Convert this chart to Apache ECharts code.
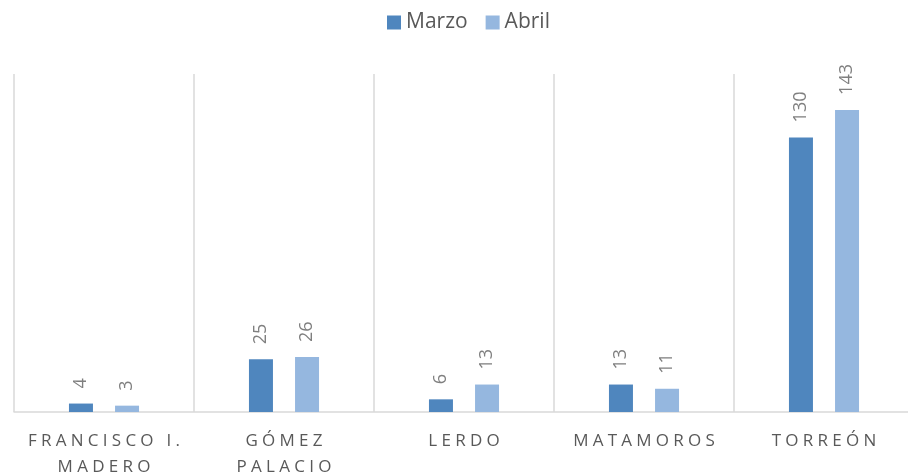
<!DOCTYPE html>
<html>
<head>
<meta charset="utf-8">
<script src="https://cdn.jsdelivr.net/npm/echarts@6/dist/echarts.min.js"></script>
<style>
  html, body { margin: 0; padding: 0; background: #fff; overflow: hidden; }
  #chart { width: 908px; height: 476px; }
</style>
</head>
<body>
<div id="chart"></div>
<script>
const categories = ['FRANCISCO I.\nMADERO', 'GÓMEZ\nPALACIO', 'LERDO', 'MATAMOROS', 'TORREÓN']
const marzo = [4, 25, 6, 13, 130]
const abril = [3, 26, 13, 11, 143]

const chart = echarts.init(document.getElementById('chart'))

// etiqueta vertical encima de cada barra
const barLabel = {
  show: true,
  position: 'top',
  rotate: 90,
  align: 'left',
  verticalAlign: 'middle',
  distance: 15,
  color: '#7f7f7f',
  fontSize: 18,
  fontFamily: 'Open Sans'
}

// espaciado entre letras como en el original
function spaced (value) {
  return value.split('\n').map(line => line.split('').join('\u2005')).join('\n')
}

const option = {
  animation: false,
  textStyle: { fontFamily: 'Open Sans' },
  legend: {
    top: 7,
    left: 382,
    itemWidth: 14,
    itemHeight: 14,
    itemGap: 18,
    icon: 'rect',
    textStyle: { color: '#595959', fontSize: 21 },
    data: ['Marzo', 'Abril']
  },
  grid: {
    left: 14,
    top: 74,
    right: -6,
    bottom: 64,
    containLabel: false,
    outerBoundsMode: 'none'
  },
  xAxis: {
    type: 'category',
    data: categories,
    axisLine: { lineStyle: { color: '#d9d9d9', width: 1.5 } },
    axisTick: { show: false },
    splitLine: { show: true, lineStyle: { color: '#d9d9d9', width: 1.5 } },
    axisLabel: {
      color: '#595959',
      fontSize: 17,
      lineHeight: 26,
      margin: 16,
      interval: 0,
      formatter: spaced
    }
  },
  yAxis: {
    type: 'value',
    min: 0,
    max: 160,
    show: false,
    splitLine: { show: false }
  },
  series: [
    {
      name: 'Marzo',
      type: 'bar',
      data: marzo,
      barWidth: 24,
      barGap: '92%',
      itemStyle: { color: '#4F86BE' },
      label: barLabel
    },
    {
      name: 'Abril',
      type: 'bar',
      data: abril,
      barWidth: 24,
      itemStyle: { color: '#95B7DF' },
      label: barLabel
    }
  ]
}

chart.setOption(option)
</script>
</body>
</html>
